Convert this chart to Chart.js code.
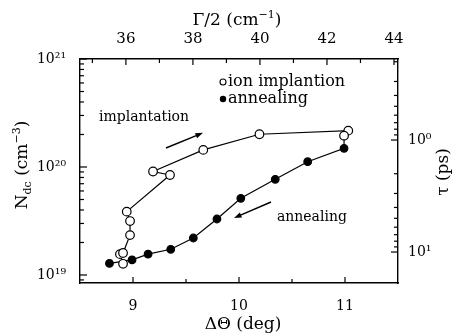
<!DOCTYPE html>
<html>
<head>
<meta charset="utf-8">
<script src="https://cdn.jsdelivr.net/npm/chart.js@4.4.1/dist/chart.umd.min.js"></script>
<style>
  html, body { margin: 0; padding: 0; background: #fff; }
  canvas { display: block; }
</style>
</head>
<body>
<canvas id="chart" width="452" height="336"></canvas>
<script>
// ion implantation, open circles (angle in deg, N_dc in cm^-3)
const implantAngle = [8.906, 8.877, 8.906, 8.972, 8.972, 8.941, 9.349, 9.189, 9.663, 10.193, 11.031, 10.991];
const implantNdc = [1.27e19, 1.56e19, 1.60e19, 2.34e19, 3.16e19, 3.86e19, 8.43e19, 9.08e19, 1.44e20, 2.01e20, 2.17e20, 1.95e20];

// annealing, filled circles (first point is the end of the implantation run)
const annealAngle = [10.991, 10.991, 10.648, 10.342, 10.017, 9.792, 9.569, 9.356, 9.142, 8.991, 8.778];
const annealNdc = [1.95e20, 1.49e20, 1.12e20, 7.69e19, 5.13e19, 3.30e19, 2.20e19, 1.73e19, 1.56e19, 1.38e19, 1.28e19];

// axis ranges and tick labels
const angleRange = [8.5, 11.5];
const angleLabels = [9, 10, 11];
const gammaRange = [34.63, 44.12];
const gammaLabels = [36, 38, 40, 42, 44];
const ndcRange = [8.43e18, 1e21];
const tauRange = [0.189, 18.9];

// annotations (data units)
const arrows = [
  { from: [9.311, 1.5e20], to: [9.66, 2.07e20] },
  { from: [10.302, 4.74e19], to: [9.953, 3.37e19] }
];
const notes = [
  { text: "implantation", at: [8.679, 2.9e20] },
  { text: "annealing", at: [10.358, 3.44e19] }
];

const FONT = "DejaVu Serif";
const SUP = { "0": "⁰", "1": "¹", "2": "²", "3": "³", "4": "⁴", "5": "⁵", "6": "⁶", "7": "⁷", "8": "⁸", "9": "⁹" };
const pow10 = (v) => {
  const l = Math.log10(v);
  if (Math.abs(l - Math.round(l)) > 1e-6) return "";
  return "10" + String(Math.round(l)).split("").map((c) => SUP[c]).join("");
};

function drawRich(ctx, parts, x, y, size, rot) {
  ctx.save();
  ctx.translate(x, y);
  ctx.rotate(rot || 0);
  ctx.fillStyle = "#000";
  ctx.textBaseline = "alphabetic";
  let w = 0;
  parts.forEach((p) => {
    ctx.font = (p.sub || p.sup ? Math.round(size * 0.62) : size) + "px '" + FONT + "'";
    p.w = ctx.measureText(p.t).width;
    w += p.w;
  });
  let cx = -w / 2;
  parts.forEach((p) => {
    ctx.font = (p.sub || p.sup ? Math.round(size * 0.62) : size) + "px '" + FONT + "'";
    const dy = p.sup ? -size * 0.42 : p.sub ? size * 0.22 : 0;
    ctx.fillText(p.t, cx, size * 0.35 + dy);
    cx += p.w;
  });
  ctx.restore();
}

const extras = {
  id: "extras",
  afterDraw(chart) {
    const { ctx, chartArea: a, scales } = chart;
    const sx = scales.x, sy = scales.y, st = scales.x2, sr = scales.y2;
    ctx.save();
    ctx.strokeStyle = "#000";
    ctx.lineWidth = 1.2;
    const tick = (x1, y1, x2, y2) => { ctx.beginPath(); ctx.moveTo(x1, y1); ctx.lineTo(x2, y2); ctx.stroke(); };

    // inward tick marks
    for (let v = 9; v <= 11; v += 0.5) {
      const px = sx.getPixelForValue(v);
      tick(px, a.bottom, px, a.bottom - (Number.isInteger(v) ? 6 : 4));
    }
    for (let v = 35; v <= 44; v++) {
      const px = st.getPixelForValue(v);
      tick(px, a.top, px, a.top + (v % 2 === 0 ? 6 : 4));
    }
    for (let e = 18; e <= 20; e++) {
      for (let m = 1; m <= 9; m++) {
        const v = m * Math.pow(10, e);
        if (v < ndcRange[0] || v > ndcRange[1]) continue;
        const py = sy.getPixelForValue(v);
        tick(a.left, py, a.left + (m === 1 ? 7 : 4), py);
      }
    }
    tick(a.left, sy.getPixelForValue(1e21), a.left + 7, sy.getPixelForValue(1e21));
    for (let e = -1; e <= 1; e++) {
      for (let m = 1; m <= 9; m++) {
        const v = m * Math.pow(10, e);
        if (v < tauRange[0] || v > tauRange[1]) continue;
        const py = sr.getPixelForValue(v);
        tick(a.right, py, a.right - (m === 1 ? 7 : 4), py);
      }
    }

    // arrows
    ctx.lineWidth = 1.4;
    ctx.fillStyle = "#000";
    arrows.forEach((ar) => {
      const x1 = sx.getPixelForValue(ar.from[0]), y1 = sy.getPixelForValue(ar.from[1]);
      const x2 = sx.getPixelForValue(ar.to[0]), y2 = sy.getPixelForValue(ar.to[1]);
      const ang = Math.atan2(y2 - y1, x2 - x1);
      tick(x1, y1, x2 - 4 * Math.cos(ang), y2 - 4 * Math.sin(ang));
      ctx.beginPath();
      ctx.moveTo(x2, y2);
      ctx.lineTo(x2 - 8 * Math.cos(ang - 0.35), y2 - 8 * Math.sin(ang - 0.35));
      ctx.lineTo(x2 - 8 * Math.cos(ang + 0.35), y2 - 8 * Math.sin(ang + 0.35));
      ctx.closePath();
      ctx.fill();
    });

    // in-plot notes
    ctx.font = "14px '" + FONT + "'";
    ctx.textBaseline = "middle";
    ctx.textAlign = "left";
    notes.forEach((n) => {
      ctx.fillText(n.text, sx.getPixelForValue(n.at[0]), sy.getPixelForValue(n.at[1]));
    });

    // legend
    const lx = a.left + 143, ly = a.top + 23;
    ctx.lineWidth = 1.1;
    ctx.beginPath(); ctx.arc(lx, ly, 3, 0, Math.PI * 2);
    ctx.fillStyle = "#fff"; ctx.fill(); ctx.stroke();
    ctx.beginPath(); ctx.arc(lx, ly + 17, 3.2, 0, Math.PI * 2);
    ctx.fillStyle = "#000"; ctx.fill();
    ctx.font = "16px '" + FONT + "'";
    ctx.fillText(chart.data.datasets[0].label, lx + 5, ly);
    ctx.fillText(chart.data.datasets[1].label, lx + 5, ly + 17);
    ctx.restore();

    // axis titles
    drawRich(ctx, [{ t: "Γ/2 (cm" }, { t: "−1", sup: true }, { t: ")" }], 237, 19, 17, 0);
    drawRich(ctx, [{ t: "ΔΘ (deg)" }], 243, 323, 17, 0);
    drawRich(ctx, [{ t: "N" }, { t: "dc", sub: true }, { t: " (cm" }, { t: "−3", sup: true }, { t: ")" }], 21, 165, 17, -Math.PI / 2);
    drawRich(ctx, [{ t: "τ (ps)" }], 442, 172, 17, -Math.PI / 2);
  }
};

const axisFont = { family: FONT, size: 14 };
const border = { display: true, color: "#000", width: 1.4 };

new Chart(document.getElementById("chart"), {
  type: "line",
  data: {
    datasets: [
      {
        label: "ion implantion",
        data: implantAngle.map((x, i) => ({ x, y: implantNdc[i] })),
        borderColor: "#000",
        borderWidth: 1.2,
        backgroundColor: "#fff",
        pointBackgroundColor: "#fff",
        pointBorderColor: "#000",
        pointBorderWidth: 1.2,
        pointRadius: 4.3,
        tension: 0,
        order: 1
      },
      {
        label: "annealing",
        data: annealAngle.map((x, i) => ({ x, y: annealNdc[i] })),
        borderColor: "#000",
        borderWidth: 1.2,
        pointBackgroundColor: "#000",
        pointBorderColor: "#000",
        pointRadius: (c) => (c.dataIndex === 0 ? 0 : 3.8),
        tension: 0,
        order: 2
      }
    ]
  },
  options: {
    responsive: false,
    animation: false,
    layout: { padding: 0 },
    plugins: { legend: { display: false }, tooltip: { enabled: false } },
    scales: {
      x: {
        type: "linear", position: "bottom",
        min: angleRange[0], max: angleRange[1],
        ticks: {
          stepSize: 0.5, includeBounds: false, autoSkip: false, maxRotation: 0, color: "#000", font: axisFont, padding: 7,
          callback: (v) => (angleLabels.includes(v) ? String(v) : "")
        },
        grid: { display: false }, border,
        afterFit: (s) => { s.height = 53; }
      },
      x2: {
        type: "linear", position: "top",
        min: gammaRange[0], max: gammaRange[1],
        ticks: {
          stepSize: 1, includeBounds: false, autoSkip: false, maxRotation: 0, color: "#000", font: { family: FONT, size: 15 }, padding: 3,
          callback: (v) => (gammaLabels.includes(v) ? String(v) : "")
        },
        grid: { display: false }, border,
        afterFit: (s) => { s.height = 59; }
      },
      y: {
        type: "logarithmic", position: "left",
        min: ndcRange[0], max: ndcRange[1],
        ticks: { autoSkip: false, color: "#000", font: { family: FONT, size: 14 }, padding: 6, callback: pow10 },
        grid: { display: false }, border,
        afterFit: (s) => { s.width = 80; }
      },
      y2: {
        type: "logarithmic", position: "right", reverse: true,
        min: tauRange[0], max: tauRange[1],
        ticks: { autoSkip: false, color: "#000", font: axisFont, padding: 2, callback: pow10 },
        grid: { display: false }, border,
        afterFit: (s) => { s.width = 54; }
      }
    }
  },
  plugins: [extras]
});
</script>
</body>
</html>
